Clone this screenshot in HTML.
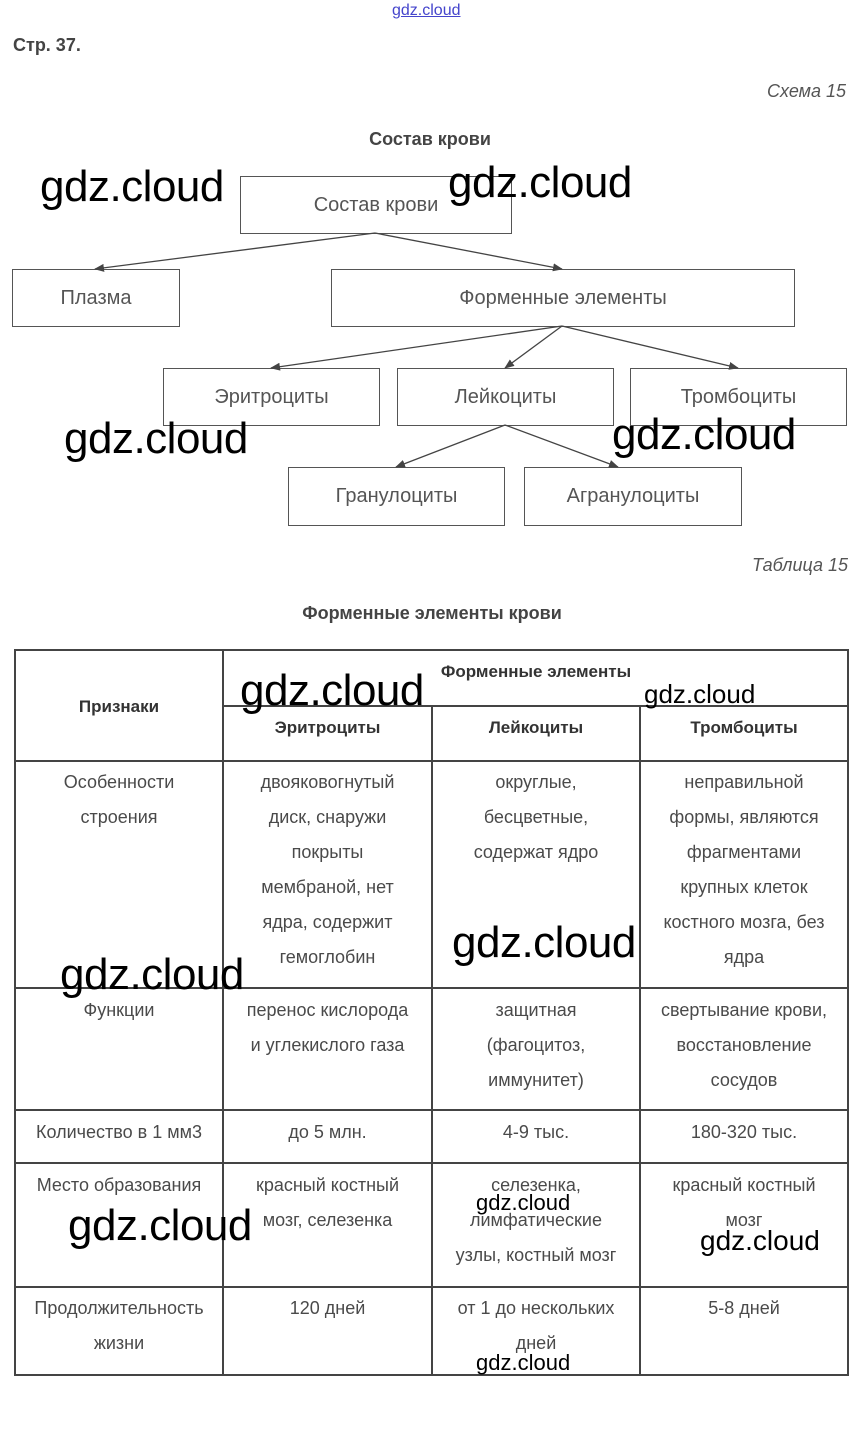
<!DOCTYPE html>
<html><head><meta charset="utf-8"><style>
body{margin:0;width:860px;height:1444px;background:#fff;position:relative;font-family:"Liberation Sans",sans-serif;color:#444;overflow:hidden}
.a{position:absolute}
.box{position:absolute;border:1px solid #555;box-sizing:border-box;display:flex;align-items:center;justify-content:center;font-size:20px;color:#555}
.l{position:absolute;background:#444}
.c{position:absolute;text-align:center;font-size:18px;line-height:35px;color:#4a4a4a}
.h{font-weight:bold;color:#333;font-size:17px}
.w{position:absolute;font-size:44px;color:#000;font-family:"Liberation Sans",sans-serif;letter-spacing:-0.5px}
.ws{position:absolute;font-size:22px;color:#000}
</style></head><body>
<div class="a" style="left:392px;top:2px;font-size:16px;color:#44c;text-decoration:underline">gdz.cloud</div>
<div class="a" style="left:13px;top:35px;font-size:18px;font-weight:bold;color:#444">Стр. 37.</div>
<div class="a" style="right:14px;top:81px;font-size:18px;font-style:italic;color:#555">Схема 15</div>
<div class="a" style="left:0;width:860px;text-align:center;top:129px;font-size:18px;font-weight:bold;color:#444">Состав крови</div>

<div class="box" style="left:240px;top:176px;width:272px;height:58px">Состав крови</div>
<div class="box" style="left:12px;top:269px;width:168px;height:58px">Плазма</div>
<div class="box" style="left:331px;top:269px;width:464px;height:58px">Форменные элементы</div>
<div class="box" style="left:163px;top:368px;width:217px;height:58px">Эритроциты</div>
<div class="box" style="left:397px;top:368px;width:217px;height:58px">Лейкоциты</div>
<div class="box" style="left:630px;top:368px;width:217px;height:58px">Тромбоциты</div>
<div class="box" style="left:288px;top:467px;width:217px;height:59px">Гранулоциты</div>
<div class="box" style="left:524px;top:467px;width:218px;height:59px">Агранулоциты</div>

<svg class="a" style="left:0;top:0" width="860" height="560">
<defs><marker id="m" markerWidth="10" markerHeight="8" refX="9" refY="4" orient="auto" markerUnits="userSpaceOnUse"><path d="M0,0L10,4L0,8z" fill="#444"/></marker></defs>
<g stroke="#444" stroke-width="1.3" marker-end="url(#m)">
<line x1="375" y1="233" x2="95" y2="269"/>
<line x1="375" y1="233" x2="562" y2="269"/>
<line x1="562" y1="326" x2="271" y2="368"/>
<line x1="562" y1="326" x2="505" y2="368"/>
<line x1="562" y1="326" x2="738" y2="368"/>
<line x1="505" y1="425" x2="396" y2="467"/>
<line x1="505" y1="425" x2="618" y2="467"/>
</g></svg>

<div class="a" style="right:12px;top:555px;font-size:18px;font-style:italic;color:#555">Таблица 15</div>
<div class="a" style="left:0;width:864px;text-align:center;top:603px;font-size:18px;font-weight:bold;color:#444">Форменные элементы крови</div>

<div class="l" style="left:15px;top:649px;width:834px;height:2px"></div>
<div class="l" style="left:223px;top:705px;width:626px;height:2px"></div>
<div class="l" style="left:15px;top:760px;width:834px;height:2px"></div>
<div class="l" style="left:15px;top:987px;width:834px;height:2px"></div>
<div class="l" style="left:15px;top:1109px;width:834px;height:2px"></div>
<div class="l" style="left:15px;top:1162px;width:834px;height:2px"></div>
<div class="l" style="left:15px;top:1286px;width:834px;height:2px"></div>
<div class="l" style="left:15px;top:1374px;width:834px;height:2px"></div>
<div class="l" style="left:14px;top:649px;width:2px;height:727px"></div>
<div class="l" style="left:222px;top:649px;width:2px;height:727px"></div>
<div class="l" style="left:431px;top:705px;width:2px;height:671px"></div>
<div class="l" style="left:639px;top:705px;width:2px;height:671px"></div>
<div class="l" style="left:847px;top:649px;width:2px;height:727px"></div>

<div class="c h" style="left:15px;width:208px;top:689px">Признаки</div>
<div class="c h" style="left:223px;width:626px;top:654px">Форменные элементы</div>
<div class="c h" style="left:223px;width:209px;top:710px">Эритроциты</div>
<div class="c h" style="left:432px;width:208px;top:710px">Лейкоциты</div>
<div class="c h" style="left:640px;width:208px;top:710px">Тромбоциты</div>

<div class="c" style="left:15px;width:208px;top:765px">Особенности<br>строения</div>
<div class="c" style="left:223px;width:209px;top:765px">двояковогнутый<br>диск, снаружи<br>покрыты<br>мембраной, нет<br>ядра, содержит<br>гемоглобин</div>
<div class="c" style="left:432px;width:208px;top:765px">округлые,<br>бесцветные,<br>содержат ядро</div>
<div class="c" style="left:640px;width:208px;top:765px">неправильной<br>формы, являются<br>фрагментами<br>крупных клеток<br>костного мозга, без<br>ядра</div>

<div class="c" style="left:15px;width:208px;top:993px">Функции</div>
<div class="c" style="left:223px;width:209px;top:993px">перенос кислорода<br>и углекислого газа</div>
<div class="c" style="left:432px;width:208px;top:993px">защитная<br>(фагоцитоз,<br>иммунитет)</div>
<div class="c" style="left:640px;width:208px;top:993px">свертывание крови,<br>восстановление<br>сосудов</div>

<div class="c" style="left:15px;width:208px;top:1115px">Количество в 1 мм3</div>
<div class="c" style="left:223px;width:209px;top:1115px">до 5 млн.</div>
<div class="c" style="left:432px;width:208px;top:1115px">4-9 тыс.</div>
<div class="c" style="left:640px;width:208px;top:1115px">180-320 тыс.</div>

<div class="c" style="left:15px;width:208px;top:1168px">Место образования</div>
<div class="c" style="left:223px;width:209px;top:1168px">красный костный<br>мозг, селезенка</div>
<div class="c" style="left:432px;width:208px;top:1168px">селезенка,<br>лимфатические<br>узлы, костный мозг</div>
<div class="c" style="left:640px;width:208px;top:1168px">красный костный<br>мозг</div>

<div class="c" style="left:15px;width:208px;top:1291px">Продолжительность<br>жизни</div>
<div class="c" style="left:223px;width:209px;top:1291px">120 дней</div>
<div class="c" style="left:432px;width:208px;top:1291px">от 1 до нескольких<br>дней</div>
<div class="c" style="left:640px;width:208px;top:1291px">5-8 дней</div>

<div class="w" style="left:40px;top:162px">gdz.cloud</div>
<div class="w" style="left:448px;top:158px">gdz.cloud</div>
<div class="w" style="left:64px;top:414px">gdz.cloud</div>
<div class="w" style="left:612px;top:410px">gdz.cloud</div>
<div class="w" style="left:240px;top:666px">gdz.cloud</div>
<div class="ws" style="left:644px;top:679px;font-size:26px">gdz.cloud</div>
<div class="w" style="left:452px;top:918px">gdz.cloud</div>
<div class="w" style="left:60px;top:950px">gdz.cloud</div>
<div class="w" style="left:68px;top:1201px">gdz.cloud</div>
<div class="ws" style="left:476px;top:1190px">gdz.cloud</div>
<div class="ws" style="left:700px;top:1225px;font-size:28px">gdz.cloud</div>
<div class="ws" style="left:476px;top:1350px">gdz.cloud</div>
</body></html>
